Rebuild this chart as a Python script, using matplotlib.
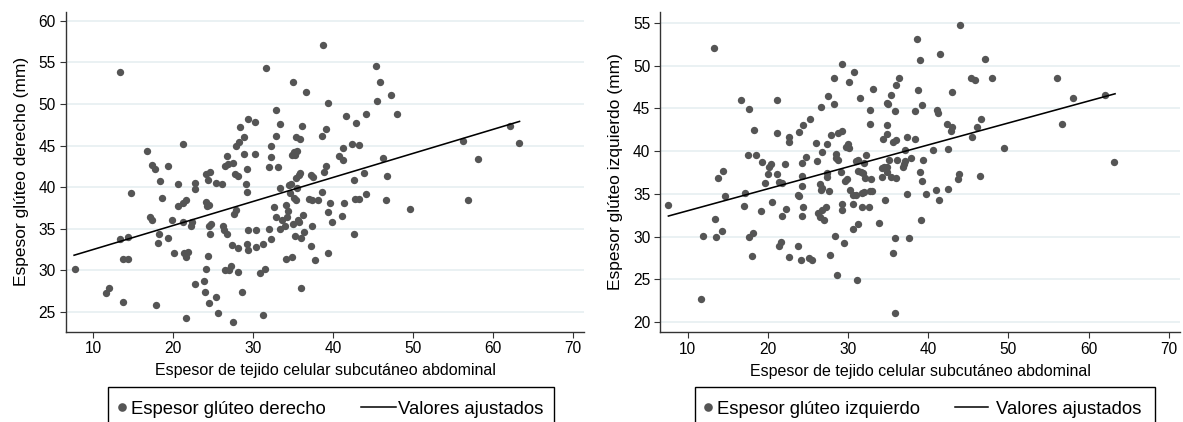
import matplotlib
matplotlib.use("Agg")
import matplotlib.pyplot as plt
from matplotlib.lines import Line2D
from matplotlib.patches import Rectangle

plt.rcParams["font.family"] = ["Liberation Sans", "DejaVu Sans"]

# left panel: abdominal fat vs right gluteal thickness
left_x = [13.4, 31.6, 35.0, 32.8, 29.3, 28.4, 30.2, 33.3, 28.9, 32.9, 35.4, 38.75, 45.4, 36.6,
          45.8, 39.4, 47.2, 45.5, 41.6, 44.1, 48.0, 42.9, 36.1, 39.05, 35.9, 38.55, 62.1, 63.25,
          56.2, 58.05, 56.8, 49.6, 46.25, 46.7, 46.6, 43.9, 42.6, 44.1, 42.7, 43.2, 42.6, 41.2,
          42.4, 43.2, 40.75, 41.25, 39.1, 38.8, 37.25, 37.5, 38.55, 39.6, 39.4, 39.8, 41.05, 41.4,
          37.0, 37.4, 38.1, 35.05, 34.3, 35.0, 35.6, 35.75, 36.25, 37.4, 35.25, 36.0, 36.3, 37.2,
          39.3, 34.05, 34.8, 37.75, 33.3, 33.3, 34.5, 34.7, 35.3, 35.7, 35.9, 34.9, 35.1, 35.5,
          35.2, 21.2, 16.7, 17.4, 17.75, 19.4, 18.3, 20.6, 14.7, 18.6, 22.75, 22.7, 21.2, 21.6,
          20.55, 17.1, 17.3, 19.8, 21.2, 22.4, 22.25, 18.2, 18.1, 19.3, 13.4, 14.3, 20.1, 21.3,
          21.6, 21.9, 13.7, 14.4, 24.3, 24.05, 7.75, 24.1, 24.25, 24.5, 24.05, 24.55, 24.4, 25.3,
          26.1, 24.75, 24.5, 24.55, 26.25, 26.4, 26.7, 27.4, 28.1, 27.8, 27.55, 28.2, 27.8, 28.9,
          30.2, 29.2, 32.2, 32.2, 33.1, 32.0, 29.1, 29.2, 27.7, 28.05, 29.4, 30.4, 29.2, 30.4,
          32.0, 32.9, 33.6, 34.2, 34.0, 32.6, 34.05, 34.55, 35.5, 35.3, 32.2, 31.25, 26.5, 26.9,
          26.75, 27.5, 11.65, 12.0, 13.7, 17.9, 21.6, 22.75, 23.9, 24.0, 24.45, 25.3, 25.65, 26.5,
          27.0, 27.2, 28.1, 27.5, 28.6, 29.4, 30.9, 31.5, 31.2, 36.0]
left_y = [53.8, 54.3, 52.6, 49.3, 48.2, 47.2, 47.8, 47.6, 46.0, 46.2, 46.0, 57.1, 54.6, 51.4,
          52.7, 50.1, 51.1, 50.3, 48.6, 48.8, 48.8, 47.7, 47.4, 47.0, 45.8, 46.1, 47.4, 45.35,
          45.6, 43.4, 38.4, 37.4, 43.5, 41.3, 38.4, 41.7, 40.9, 39.2, 38.6, 38.6, 34.4, 44.7,
          45.2, 45.1, 43.7, 43.3, 42.5, 41.8, 41.5, 41.2, 39.4, 38.1, 37.0, 35.8, 36.5, 38.1,
          38.6, 38.5, 38.4, 38.7, 37.1, 35.55, 36.0, 35.75, 36.6, 35.3, 34.1, 33.9, 34.6, 32.9,
          32.1, 31.3, 31.6, 31.2, 34.9, 39.9, 40.3, 40.4, 41.1, 41.5, 41.7, 43.9, 44.25, 44.4,
          43.8, 45.2, 44.3, 42.7, 42.2, 42.5, 40.7, 40.4, 39.3, 38.7, 40.5, 39.8, 38.1, 38.45,
          37.7, 36.4, 36.0, 36.0, 35.8, 35.8, 35.3, 34.4, 33.3, 33.9, 33.7, 34.0, 32.1, 32.1,
          31.6, 32.2, 31.4, 31.3, 31.7, 30.2, 30.2, 38.2, 37.7, 37.8, 41.6, 41.8, 40.8, 40.5,
          40.4, 35.6, 35.3, 34.4, 35.3, 34.8, 34.4, 33.0, 32.7, 37.3, 36.8, 45.4, 44.9, 44.0,
          44.0, 42.2, 44.9, 43.6, 42.4, 42.4, 40.4, 39.4, 41.6, 41.3, 34.8, 34.85, 33.2, 32.8,
          35.0, 36.4, 36.05, 36.4, 35.3, 37.55, 37.8, 39.3, 39.85, 38.4, 33.7, 33.1, 42.5, 42.8,
          43.7, 42.9, 27.2, 27.8, 26.2, 25.8, 24.3, 28.3, 28.7, 27.4, 26.0, 26.75, 24.9, 30.0,
          30.0, 30.5, 29.8, 23.8, 27.4, 32.4, 29.7, 30.2, 24.6, 27.9]
left_fit_x = [7.6, 63.3]
left_fit_y = [31.8, 47.9]

# right panel: abdominal fat vs left gluteal thickness
right_x = [13.3, 16.6, 17.7, 18.3, 21.2, 21.1, 22.6, 23.9, 24.4, 25.2, 26.6, 27.5, 28.2, 28.3,
           29.25, 30.1, 30.8, 31.5, 33.1, 32.7, 32.8, 34.8, 35.0, 35.4, 35.8, 36.0, 36.3, 34.9,
           34.9, 27.9, 28.7, 29.2, 34.4, 44.0, 38.6, 41.5, 39.0, 47.1, 45.3, 45.8, 47.9, 56.1,
           38.7, 43.0, 58.0, 62.0, 39.2, 38.4, 41.1, 41.2, 56.7, 46.6, 46.1, 42.3, 42.95, 42.8,
           37.3, 38.4, 45.4, 7.6, 11.9, 13.5, 14.25, 13.4, 13.75, 14.4, 14.6, 17.0, 17.1, 17.5,
           18.5, 17.7, 18.1, 18.0, 19.2, 19.3, 20.2, 20.4, 20.0, 19.7, 20.5, 21.2, 21.4, 21.75,
           21.75, 22.2, 22.3, 21.4, 21.7, 22.6, 22.7, 23.8, 23.7, 23.9, 24.2, 24.2, 24.3, 24.4,
           24.25, 24.8, 24.1, 25.1, 25.5, 26.0, 26.1, 26.25, 26.5, 26.7, 26.95, 26.5, 26.6, 26.75,
           26.8, 27.4, 27.4, 27.4, 27.6, 27.25, 27.8, 28.4, 28.5, 28.75, 28.5, 29.1, 29.6, 29.9,
           29.2, 29.2, 29.5, 30.0, 30.2, 29.8, 30.1, 30.6, 30.6, 31.0, 30.6, 31.3, 31.0, 31.2,
           31.3, 31.6, 31.9, 32.1, 32.2, 32.0, 31.7, 32.0, 32.7, 33.0, 31.7, 32.6, 32.9, 33.9,
           34.25, 34.5, 34.9, 34.6, 35.6, 36.0, 35.8, 35.6, 35.4, 36.0, 36.1, 40.6, 42.5, 37.1,
           49.5, 63.2, 35.1, 37.1, 37.0, 36.8, 37.9, 39.4, 34.2, 34.8, 39.0, 39.2, 43.9, 43.75,
           46.5, 37.3, 39.75, 41.0, 41.3, 42.5, 39.1, 37.6, 11.65, 28.6, 31.1, 35.8]
right_y = [52.0, 46.0, 44.9, 42.5, 46.0, 42.1, 41.6, 42.2, 43.0, 43.7, 45.1, 46.4, 45.5, 48.5,
           50.2, 48.1, 49.2, 46.2, 47.3, 44.8, 43.2, 45.65, 45.5, 46.6, 44.7, 47.75, 48.6, 43.05,
           42.0, 41.9, 42.1, 42.4, 41.4, 54.7, 53.1, 51.3, 50.6, 50.8, 48.5, 48.3, 48.6, 48.5,
           47.1, 46.9, 46.2, 46.5, 45.35, 44.7, 44.8, 44.5, 43.2, 43.7, 42.85, 43.2, 42.8, 42.3,
           41.7, 41.45, 41.7, 33.7, 30.05, 30.0, 30.7, 32.1, 36.9, 37.7, 34.7, 33.6, 35.1, 39.55,
           39.5, 30.0, 30.4, 27.7, 33.0, 38.7, 38.1, 38.5, 37.3, 36.3, 34.0, 37.3, 36.35, 36.3,
           32.4, 38.45, 33.2, 28.9, 29.4, 27.55, 41.1, 28.9, 34.9, 34.8, 37.05, 35.9, 32.4, 33.5,
           38.6, 39.3, 27.3, 27.5, 27.2, 41.0, 38.8, 32.8, 32.3, 33.1, 31.95, 36.2, 35.45, 35.7,
           39.9, 40.8, 37.4, 37.0, 35.3, 33.5, 27.8, 30.1, 39.2, 39.0, 39.6, 37.5, 36.5, 36.7,
           33.8, 33.1, 29.3, 40.8, 35.5, 40.5, 40.3, 34.9, 33.8, 34.9, 30.9, 31.5, 38.8, 39.0,
           37.7, 37.5, 37.4, 36.8, 39.55, 38.6, 35.1, 35.2, 35.3, 35.3, 33.5, 33.4, 36.7, 31.6,
           37.0, 38.1, 38.1, 34.25, 41.1, 41.3, 29.8, 28.1, 37.0, 36.8, 38.9, 40.1, 40.25, 40.1,
           40.3, 38.7, 39.0, 38.85, 38.5, 38.1, 39.2, 39.0, 38.0, 37.6, 37.55, 36.5, 37.3, 36.7,
           37.05, 35.0, 35.0, 35.5, 34.25, 35.6, 31.9, 29.85, 22.7, 25.5, 24.9, 21.1]
right_fit_x = [7.6, 63.3]
right_fit_y = [32.4, 46.7]

x_ticks = [10, 20, 30, 40, 50, 60, 70]
xlabel = "Espesor de tejido celular subcutáneo abdominal"
fit_label = "Valores ajustados"

DOT = "#555555"
GRID = "#e6eff1"

W, H = 1183, 422
fig = plt.figure(figsize=(W / 100, H / 100), dpi=100)


def fx(x):
    return x / W


def fy(y):
    return 1 - y / H


def stata_legend(box, marker_x, text1_x, line_x, text2_x, name):
    # boxed legend under the plot, Stata style; its lower edge runs off the image
    x0, y0, x1, y1 = box
    fig.add_artist(Rectangle((fx(x0), fy(y1)), fx(x1 - x0), (y1 - y0) / H,
                             transform=fig.transFigure, fill=False, ec="black", lw=1.0))
    base = 413.5
    mid = 406.5
    fig.add_artist(Line2D([fx(marker_x)], [fy(mid)], ls="none", marker="o", ms=6.2,
                          color=DOT, mew=0, transform=fig.transFigure))
    fig.text(fx(text1_x), fy(base), name, fontsize=13.3, va="baseline", ha="left")
    fig.add_artist(Line2D([fx(line_x[0]), fx(line_x[1])], [fy(mid), fy(mid)], color="black",
                          lw=1.1, transform=fig.transFigure))
    fig.text(fx(text2_x), fy(base), fit_label, fontsize=13.3, va="baseline", ha="left")


def panel(rect, xs, ys, fit_x, fit_y, ylim, yticks, ylabel):
    x0, y0, x1, y1 = rect
    ax = fig.add_axes([fx(x0), fy(y1), fx(x1 - x0), (y1 - y0) / H])
    ax.scatter(xs, ys, s=28, color=DOT, linewidths=0, zorder=3)
    ax.plot(fit_x, fit_y, color="black", lw=1.15, zorder=4)
    ax.set_xlim(6.55, 71.4)
    ax.set_ylim(*ylim)
    ax.set_xticks(x_ticks)
    ax.set_yticks(yticks)
    ax.yaxis.grid(True, color=GRID, lw=1.2)
    ax.set_axisbelow(True)
    for s in ("top", "right"):
        ax.spines[s].set_visible(False)
    for s in ("left", "bottom"):
        ax.spines[s].set_color("#333333")
        ax.spines[s].set_linewidth(1.0)
    ax.tick_params(direction="out", length=4, width=0.8, color="#333333",
                   labelsize=11.2, pad=3)
    ax.set_xlabel(xlabel, fontsize=11.5, labelpad=5)
    ax.set_ylabel(ylabel, fontsize=12.5, labelpad=7)
    return ax


panel((65.7, 11.7, 584.3, 331.7), left_x, left_y, left_fit_x, left_fit_y,
      (22.6, 61.1), [25, 30, 35, 40, 45, 50, 55, 60], "Espesor glúteo derecho (mm)")
panel((660, 11.7, 1180, 332.3), right_x, right_y, right_fit_x, right_fit_y,
      (18.8, 56.3), [20, 25, 30, 35, 40, 45, 50, 55], "Espesor glúteo izquierdo (mm)")

stata_legend((108, 387, 554, 440), 121.5, 131, (361, 396), 398, "Espesor glúteo derecho")
stata_legend((695, 387, 1155, 440), 708, 717, (955, 988), 996, "Espesor glúteo izquierdo")

fig.savefig("out.png", dpi=100)
